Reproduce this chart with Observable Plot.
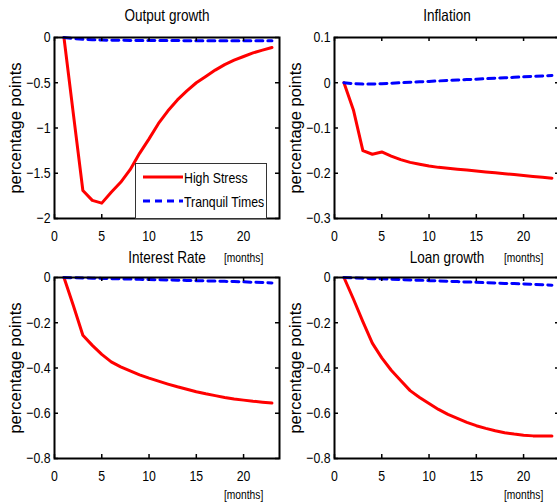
<!DOCTYPE html>
<html><head><meta charset="utf-8">
<script src="https://cdn.jsdelivr.net/npm/d3@7"></script>
<script src="https://cdn.jsdelivr.net/npm/@observablehq/plot@0.6"></script>
<style>
body{margin:0;background:#fff;}
#chart{position:relative;width:557px;height:502px;overflow:hidden;background:#fff;font-family:"Liberation Sans",Arial,sans-serif;}
#chart svg{position:absolute;overflow:visible;}
#legend{position:absolute;left:135px;top:163px;width:130px;height:54px;border:1px solid #333;background:#fff;font-size:15px;}
#legend .row{position:absolute;left:7px;height:20px;display:flex;align-items:center;white-space:nowrap;}
#legend .row span{display:inline-block;transform:scaleX(0.82);transform-origin:0 50%;margin-left:1px;}
#legend svg{position:static;}
</style></head><body><div id="chart"></div>
<script>
const months = [1,2,3,4,5,6,7,8,9,10,11,12,13,14,15,16,17,18,19,20,21,22,23];
const xTicks = [0,5,10,15,20];
const seriesNames = ["High Stress","Tranquil Times"];

const outputHigh = [0,-0.85,-1.69,-1.80,-1.83,-1.71,-1.60,-1.46,-1.28,-1.12,-0.95,-0.81,-0.69,-0.59,-0.50,-0.43,-0.36,-0.30,-0.25,-0.21,-0.17,-0.14,-0.11];
const outputTranquil = [0,-0.01,-0.02,-0.025,-0.028,-0.03,-0.031,-0.032,-0.033,-0.033,-0.034,-0.034,-0.034,-0.035,-0.035,-0.035,-0.035,-0.035,-0.035,-0.035,-0.035,-0.035,-0.035];
const inflationHigh = [0,-0.06,-0.15,-0.158,-0.153,-0.162,-0.17,-0.176,-0.18,-0.184,-0.187,-0.189,-0.191,-0.193,-0.195,-0.197,-0.199,-0.201,-0.203,-0.205,-0.207,-0.209,-0.211];
const inflationTranquil = [0,-0.002,-0.003,-0.003,-0.002,-0.001,0,0.001,0.002,0.003,0.004,0.005,0.006,0.007,0.008,0.009,0.010,0.011,0.012,0.013,0.014,0.015,0.016];
const rateHigh = [0,-0.125,-0.255,-0.30,-0.34,-0.373,-0.395,-0.413,-0.43,-0.445,-0.458,-0.471,-0.483,-0.494,-0.505,-0.514,-0.522,-0.53,-0.537,-0.542,-0.547,-0.551,-0.555];
const rateTranquil = [0,-0.001,-0.002,-0.003,-0.004,-0.005,-0.006,-0.007,-0.008,-0.009,-0.010,-0.011,-0.012,-0.013,-0.014,-0.015,-0.016,-0.017,-0.018,-0.019,-0.021,-0.022,-0.024];
const loanHigh = [0,-0.095,-0.195,-0.29,-0.355,-0.41,-0.455,-0.50,-0.53,-0.557,-0.583,-0.605,-0.623,-0.64,-0.655,-0.667,-0.677,-0.686,-0.692,-0.697,-0.70,-0.70,-0.70];
const loanTranquil = [0,-0.002,-0.003,-0.005,-0.006,-0.008,-0.009,-0.011,-0.012,-0.014,-0.015,-0.017,-0.018,-0.020,-0.021,-0.023,-0.024,-0.026,-0.027,-0.029,-0.030,-0.032,-0.034];

const titles = ["Output growth","Inflation","Interest Rate","Loan growth"];
const yTicksOutput = [0,-0.5,-1,-1.5,-2];
const yTicksInflation = [0.1,0,-0.1,-0.2,-0.3];
const yTicksRate = [0,-0.2,-0.4,-0.6,-0.8];
const yTicksLoan = [0,-0.2,-0.4,-0.6,-0.8];
const yLabel = "percentage points";
const xLabel = "[months]";

const FONT = '"Liberation Sans",Arial,sans-serif';
const SQUEEZE = 0.82;
const chart = document.getElementById("chart");
const fmt = d3.format("");

function rows(arr){ return months.map((m,i)=>({m, v: arr[i]})); }

function condense(svg){
  svg.querySelectorAll("text").forEach(t => {
    const tr = t.getAttribute("transform") || "";
    if (tr.includes("rotate")) return;
    const L = t.getComputedTextLength();
    if (L > 0) {
      t.setAttribute("textLength", (L * SQUEEZE).toFixed(2));
      t.setAttribute("lengthAdjust", "spacingAndGlyphs");
    }
  });
}

function panel({left, top, height, mTop, mBottom, title, high, tranquil, yTicks, titleDy, monthsDy}){
  const width = 280, mLeft = 54, mRight = 1;
  const fw = width - mLeft - mRight, fh = height - mTop - mBottom;
  const svg = Plot.plot({
    width, height,
    marginLeft: mLeft, marginRight: mRight, marginTop: mTop, marginBottom: mBottom,
    style: {fontFamily: FONT, fontSize: "15px", color: "black", background: "transparent", overflow: "visible"},
    x: {domain: [0, 23.8], axis: null},
    y: {domain: [d3.min(yTicks), d3.max(yTicks)], axis: null},
    marks: [
      Plot.line(rows(high), {x: "m", y: "v", stroke: "#ff0000", strokeWidth: 3}),
      Plot.line(rows(tranquil), {x: "m", y: "v", stroke: "#0000ff", strokeWidth: 3, strokeDasharray: "7,5"}),
      Plot.tickX(xTicks, {x: d => d, stroke: "black", strokeWidth: 1.5, insetTop: fh - 4}),
      Plot.tickX(xTicks, {x: d => d, stroke: "black", strokeWidth: 1.5, insetBottom: fh - 4}),
      Plot.tickY(yTicks, {y: d => d, stroke: "black", strokeWidth: 1.5, insetRight: fw - 4}),
      Plot.tickY(yTicks, {y: d => d, stroke: "black", strokeWidth: 1.5, insetLeft: fw - 4}),
      Plot.frame({stroke: "black", strokeWidth: 2}),
      Plot.axisX(xTicks, {anchor: "bottom", tickSize: 0, tickPadding: 12, label: null, fontSize: 15, tickFormat: fmt}),
      Plot.axisY(yTicks, {anchor: "left", tickSize: 0, tickPadding: 4, label: null, fontSize: 15, tickFormat: fmt}),
      Plot.text([title], {frameAnchor: "top", dy: titleDy, lineAnchor: "middle", textAnchor: "middle", fontSize: 16.5}),
      Plot.text([yLabel], {frameAnchor: "left", dx: -39, rotate: -90, textAnchor: "middle", lineAnchor: "middle", fontSize: 16.5}),
      Plot.text([xLabel], {x: 20, frameAnchor: "bottom", dy: monthsDy, lineAnchor: "middle", textAnchor: "middle", fontSize: 12.5})
    ]
  });
  svg.style.left = left + "px";
  svg.style.top = top + "px";
  chart.appendChild(svg);
  condense(svg);
}

panel({left: 0, top: 0, height: 245, mTop: 37, mBottom: 27, title: titles[0], high: outputHigh, tranquil: outputTranquil, yTicks: yTicksOutput, titleDy: -22, monthsDy: 39});
panel({left: 280, top: 0, height: 245, mTop: 37, mBottom: 27, title: titles[1], high: inflationHigh, tranquil: inflationTranquil, yTicks: yTicksInflation, titleDy: -22, monthsDy: 39});
panel({left: 0, top: 245, height: 257, mTop: 32, mBottom: 44, title: titles[2], high: rateHigh, tranquil: rateTranquil, yTicks: yTicksRate, titleDy: -20, monthsDy: 36});
panel({left: 280, top: 245, height: 257, mTop: 32, mBottom: 44, title: titles[3], high: loanHigh, tranquil: loanTranquil, yTicks: yTicksLoan, titleDy: -20, monthsDy: 36});

// legend
const legend = document.createElement("div");
legend.id = "legend";
[[seriesNames[0], "#ff0000", null, 3], [seriesNames[1], "#0000ff", "7,5", 27]].forEach(([name, color, dash, y]) => {
  const row = document.createElement("div");
  row.className = "row";
  row.style.top = y + "px";
  row.innerHTML = `<svg width="40" height="6"><line x1="0" x2="40" y1="3" y2="3" stroke="${color}" stroke-width="3" ${dash ? `stroke-dasharray="${dash}"` : ""}/></svg><span>${name}</span>`;
  legend.appendChild(row);
});
chart.appendChild(legend);
</script></body></html>
